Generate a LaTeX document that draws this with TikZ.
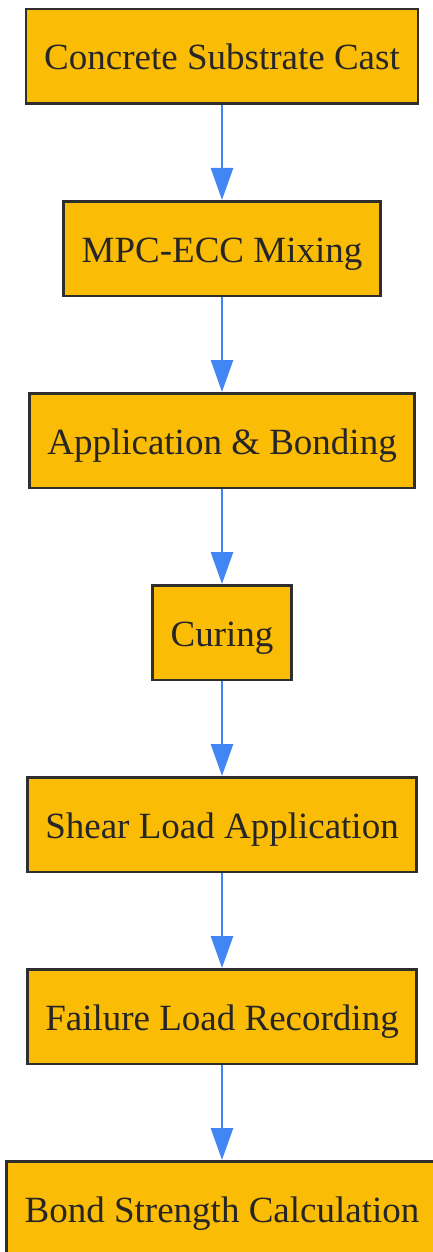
\documentclass[tikz,border=0pt]{standalone}
\usepackage{fontspec}
\setmainfont{Liberation Serif}
\usetikzlibrary{arrows.meta,chains,positioning}
\definecolor{boxfill}{HTML}{FBBC05}
\definecolor{boxline}{HTML}{2E2E2E}
\definecolor{flowblue}{HTML}{4285F4}

\begin{document}
\begin{tikzpicture}[
node distance=95pt,
 start chain = F going below,
    X/.style = {rectangle, draw=boxline, fill=boxfill,% styles of nodes in the flow (chain)
                line width=2.5pt, minimum height=94.5pt,
                inner xsep=18pt, text height=27pt, text depth=0pt,
                text=black!85, font=\fontsize{37}{44}\selectfont, on chain},
    L/.style = {draw=flowblue, line width=2.7pt,% style of the arrows between steps
                -{Triangle[length=32pt,width=22pt]}},
                        ]
\clip (0pt,0pt) rectangle (433pt,-1252pt);
\node[X] at (222pt,-56.5pt) {Concrete Substrate Cast};
\foreach \i in {MPC-ECC Mixing,Application \& Bonding,Curing,Shear Load Application,Failure Load Recording,Bond Strength Calculation}% <-- content of nodes
    \node[X] {\i};
\foreach \j [count=\k from 2] in {1,...,6}
    \draw[L] (F-\j) -- (F-\k);
\end{tikzpicture}
\end{document}
